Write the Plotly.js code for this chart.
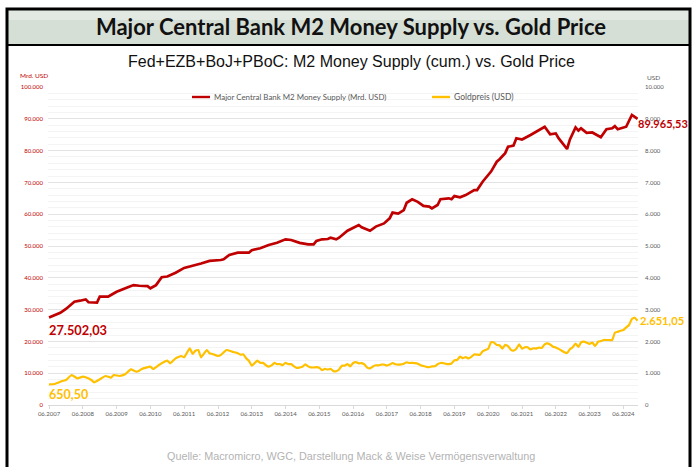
<!DOCTYPE html>
<html>
<head>
<meta charset="utf-8">
<script src="https://cdn.plot.ly/plotly-3.0.1.min.js"></script>
<style>
html,body{margin:0;padding:0;background:#fff;}
#chart{width:695px;height:467px;}
</style>
</head>
<body>
<div id="chart"></div>
<script>
// ---------- DATA ----------
const m2Dates = ["2007-06","2007-10","2007-12","2008-01","2008-03","2008-05","2008-07","2008-08","2008-11","2008-12",
"2009-03","2009-04","2009-06","2009-10","2009-12","2010-02","2010-05","2010-06","2010-08","2010-10","2010-12",
"2011-03","2011-06","2011-12","2012-03","2012-07","2012-08","2012-10","2012-11","2013-01","2013-05","2013-06",
"2013-09","2013-12","2014-03","2014-06","2014-08","2014-11","2015-02","2015-04","2015-05","2015-07","2015-09",
"2015-10","2015-12","2016-01","2016-04","2016-06","2016-08","2016-09","2016-12","2017-02","2017-05","2017-07",
"2017-08","2017-10","2017-12","2018-01","2018-03","2018-05","2018-07","2018-09","2018-10","2018-12","2019-01",
"2019-04","2019-05","2019-06","2019-08","2019-10","2020-01","2020-02","2020-04","2020-07","2020-09","2020-10",
"2020-12","2021-01","2021-03","2021-04","2021-06","2021-09","2021-11","2022-02","2022-04","2022-06","2022-07",
"2022-10","2022-11","2023-01","2023-02","2023-03","2023-05","2023-07","2023-10","2023-12","2024-02","2024-03",
"2024-04","2024-06","2024-07","2024-09","2024-11"];
const m2Values = [27502.03,29000,30200,30900,32500,32800,33200,32300,32200,34100,
34100,34600,35600,37000,37700,37500,37400,36700,37700,40200,40400,
41600,43100,44500,45300,45600,45800,47200,47400,47900,47900,48700,
49300,50300,51000,52100,51900,51000,50500,50500,51600,52100,52200,
52600,52100,52600,54800,55600,56600,55900,54800,56100,57100,58700,
60500,60200,61300,63600,64700,63900,62600,62400,61800,62900,64700,
65000,64700,65700,65300,66000,67600,67600,70200,73400,76500,77300,
79200,81200,81600,83900,83500,84900,85900,87500,85100,85400,83900,
80500,83500,87300,86300,87000,85600,85700,84200,86700,87000,87700,
86700,87200,87500,91200,89965.53];

const goldDates = ["2007-06","2007-08","2007-11","2007-12","2008-02","2008-04","2008-06","2008-07","2008-09","2008-10",
"2008-12","2009-02","2009-04","2009-05","2009-07","2009-09","2009-11","2010-01","2010-02","2010-03","2010-06",
"2010-07","2010-09","2010-12","2011-01","2011-03","2011-05","2011-06","2011-08","2011-09","2011-10","2011-11",
"2011-12","2012-02","2012-03","2012-04","2012-06","2012-07","2012-09","2012-11","2013-01",
"2013-02","2013-03","2013-04","2013-05","2013-06","2013-07","2013-08","2013-09","2013-10","2013-11","2013-12",
"2014-01","2014-02","2014-03","2014-04","2014-05","2014-06","2014-07","2014-08","2014-09","2014-10","2014-11","2014-12",
"2015-01","2015-02","2015-03","2015-04","2015-05","2015-06","2015-07","2015-08","2015-09","2015-10","2015-11","2015-12",
"2016-01","2016-02","2016-03","2016-04","2016-05","2016-06","2016-07","2016-08","2016-09","2016-10","2016-11","2016-12",
"2017-01","2017-02","2017-03","2017-04","2017-05","2017-06","2017-07","2017-08","2017-09","2017-10","2017-11","2017-12",
"2018-01","2018-02","2018-03","2018-04","2018-05","2018-06","2018-07","2018-08","2018-09","2018-10","2018-11","2018-12",
"2019-01","2019-02","2019-03","2019-04","2019-05","2019-06","2019-07","2019-08","2019-09","2019-10","2019-11","2019-12",
"2020-01","2020-02","2020-03","2020-04","2020-05","2020-06","2020-07","2020-08","2020-09","2020-10","2020-11","2020-12",
"2021-01","2021-02","2021-03","2021-04","2021-05","2021-06","2021-07","2021-08","2021-09","2021-10","2021-11","2021-12",
"2022-01","2022-02","2022-03","2022-04","2022-05","2022-06","2022-07","2022-08","2022-09","2022-10","2022-11","2022-12",
"2023-01","2023-02","2023-03","2023-04","2023-05","2023-06","2023-07","2023-08","2023-09","2023-10","2023-11","2023-12",
"2024-01","2024-02","2024-03","2024-04","2024-05","2024-06","2024-07","2024-08","2024-09","2024-10","2024-11"];
const goldValues = [650.50,660,764,786,943,840,890,870,786,714,
808,912,860,943,912,965,1122,1048,1080,1132,1205,
1132,1258,1394,1310,1468,1541,1500,1783,1604,1708,1730,
1500,1730,1626,1604,1541,1572,1730,1677,1626,
1580,1595,1470,1390,1235,1315,1395,1325,1325,1250,1205,
1245,1325,1285,1290,1250,1325,1285,1285,1215,1165,1180,1200,
1280,1215,1185,1180,1190,1170,1095,1135,1115,1140,1065,1060,
1115,1235,1235,1290,1215,1320,1350,1310,1315,1275,1175,1150,
1210,1250,1245,1270,1270,1240,1270,1320,1280,1270,1275,1300,
1345,1320,1325,1315,1300,1250,1225,1200,1190,1215,1220,1280,
1320,1315,1295,1285,1305,1410,1415,1520,1470,1510,1465,1515,
1590,1585,1575,1685,1730,1770,1975,1965,1885,1880,1775,1890,
1850,1735,1710,1770,1905,1770,1815,1815,1745,1785,1775,1805,
1795,1910,1940,1900,1835,1810,1765,1715,1660,1635,1755,1815,
1930,1825,1970,1990,1960,1920,1965,1855,1990,2010,2044,2044,
2044,2044,2274,2300,2337,2358,2440,2516,2704,2745,2651.05];

const m2Name = "Major Central Bank M2 Money Supply (Mrd. USD)";
const goldName = "Goldpreis (USD)";
const leftTickVals = [0,10000,20000,30000,40000,50000,60000,70000,80000,90000,100000];
const rightTickVals = [0,1000,2000,3000,4000,5000,6000,7000,8000,9000,10000];
const m2StartLabel = "27.502,03", m2EndLabel = "89.965,53";
const goldStartLabel = "650,50", goldEndLabel = "2.651,05";

// ---------- STYLE / LAYOUT ----------
const RED = "#c00000", GOLD = "#ffc000";
const PL = 48, PR = 638, PT = 87, PB = 405;           // plot area in px
const W = 695, H = 467;
const px = v => (v - PL) / (PR - PL);                  // px -> paper x
const py = v => (PB - v) / (PB - PT);                  // px -> paper y

const traces = [
  {x: m2Dates, y: m2Values, name: m2Name, type: "scatter", mode: "lines",
   line: {color: RED, width: 2.7}, yaxis: "y", showlegend: false, hoverinfo: "skip"},
  {x: goldDates, y: goldValues, name: goldName, type: "scatter", mode: "lines",
   line: {color: GOLD, width: 2.2, shape: "spline", smoothing: 0.4}, yaxis: "y2", showlegend: false, hoverinfo: "skip"}
];

const smallFont = {family: "Lato, 'Liberation Sans', sans-serif", size: 6, color: "#595959"};

const annotations = [
  {xref: "paper", yref: "paper", x: px(351), y: py(62), text: "Fed+EZB+BoJ+PBoC: M2 Money Supply (cum.) vs. Gold Price",
   showarrow: false, xanchor: "center", yanchor: "middle",
   font: {family: "'Liberation Sans', Arial, sans-serif", size: 16, color: "#111"}},
  {xref: "paper", yref: "paper", x: px(18), y: py(76), text: "Mrd. USD", showarrow: false,
   xanchor: "left", yanchor: "middle", font: {family: "Lato, sans-serif", size: 6.5, color: RED}},
  {xref: "paper", yref: "paper", x: px(645), y: py(77), text: "USD", showarrow: false,
   xanchor: "left", yanchor: "middle", font: {family: "Lato, sans-serif", size: 6.5, color: "#595959"}},
  // legend texts
  {xref: "paper", yref: "paper", x: px(212), y: py(97), text: m2Name, showarrow: false,
   xanchor: "left", yanchor: "middle", font: {family: "Lato, sans-serif", size: 7.9, color: "#595959"}},
  {xref: "paper", yref: "paper", x: px(452), y: py(97), text: goldName, showarrow: false,
   xanchor: "left", yanchor: "middle", font: {family: "Lato, sans-serif", size: 8.5, color: "#595959"}},
  // value labels
  {x: m2Dates[0], y: m2Values[0], xref: "x", yref: "y", text: "<b>" + m2StartLabel + "</b>", showarrow: false,
   xanchor: "left", yanchor: "top", xshift: -2, yshift: -2,
   font: {family: "Lato, sans-serif", size: 12.8, color: RED}},
  {x: m2Dates[m2Dates.length-1], y: m2Values[m2Values.length-1], xref: "x", yref: "y",
   text: "<b>" + m2EndLabel + "</b>", showarrow: false, xanchor: "left", yanchor: "middle", xshift: -2, yshift: -5,
   font: {family: "Lato, sans-serif", size: 11, color: RED}},
  {x: goldDates[0], y: goldValues[0], xref: "x", yref: "y2", text: "<b>" + goldStartLabel + "</b>", showarrow: false,
   xanchor: "left", yanchor: "top", xshift: -2, yshift: -1,
   font: {family: "Lato, sans-serif", size: 12.5, color: GOLD}},
  {x: goldDates[goldDates.length-1], y: goldValues[goldValues.length-1], xref: "x", yref: "y2",
   text: "<b>" + goldEndLabel + "</b>", showarrow: false, xanchor: "left", yanchor: "middle", xshift: 0, yshift: 0,
   font: {family: "Lato, sans-serif", size: 11.2, color: GOLD}},
  // source
  {xref: "paper", yref: "paper", x: px(351), y: py(456), text: "Quelle: Macromicro, WGC, Darstellung Mack & Weise Vermögensverwaltung",
   showarrow: false, xanchor: "center", yanchor: "middle",
   font: {family: "'Liberation Sans', Arial, sans-serif", size: 10.8, color: "#b3b3b3"}}
];

const shapes = [
  // banner
  {type: "rect", xref: "paper", yref: "paper", x0: px(7), x1: px(690), y0: py(9), y1: py(45),
   fillcolor: "#d6dfd6", line: {width: 0}, layer: "below"},
  {type: "rect", xref: "paper", yref: "paper", x0: px(7), x1: px(690), y0: py(9), y1: py(20),
   fillcolor: "#e2e9e2", line: {width: 0}, layer: "below"},
  {type: "line", xref: "paper", yref: "paper", x0: px(7), x1: px(690), y0: py(45), y1: py(45),
   line: {color: "#000", width: 2}},
  // outer frame
  {type: "rect", xref: "paper", yref: "paper", x0: px(7), x1: px(690), y0: py(9), y1: py(490),
   line: {color: "#000", width: 3}, fillcolor: "rgba(0,0,0,0)"},
  // legend lines
  {type: "line", xref: "paper", yref: "paper", x0: px(192), x1: px(210), y0: py(97), y1: py(97),
   line: {color: RED, width: 2.4}},
  {type: "line", xref: "paper", yref: "paper", x0: px(432), x1: px(450), y0: py(97), y1: py(97),
   line: {color: GOLD, width: 2.4}}
];

const layout = {
  width: W, height: H,
  margin: {l: PL, r: W - PR, t: PT, b: H - PB},
  paper_bgcolor: "#fff", plot_bgcolor: "#fff",
  separators: ",.",
  showlegend: false,
  title: {text: "<b>Major Central Bank M2 Money Supply vs. Gold Price</b>",
    xref: "container", yref: "container", x: 351 / W, y: 1 - 27 / H, xanchor: "center", yanchor: "middle",
    font: {family: "Lato, 'Open Sans', sans-serif", size: 22, color: "#111"}},
  xaxis: {type: "date", range: ["2007-05-21", "2024-11-06"], tick0: "2007-06-01", dtick: "M12",
    tickformat: "%m.%Y", showgrid: false, zeroline: false, showline: true, linecolor: "#d9d9d9", linewidth: 1,
    ticks: "outside", ticklen: 3, tickcolor: "#d9d9d9", tickfont: smallFont, fixedrange: true},
  yaxis: {range: [0, 100000], tickvals: leftTickVals, tickformat: ",d", showgrid: true, gridcolor: "#e3e3e3",
    gridwidth: 1, zeroline: false, showline: false, ticks: "", ticklabelstandoff: 4,
    tickfont: {family: "Lato, sans-serif", size: 6, color: RED},
    minor: {dtick: 2000, showgrid: true, gridcolor: "#f4f4f4", gridwidth: 1}, fixedrange: true},
  yaxis2: {range: [0, 10000], tickvals: rightTickVals, tickformat: ",d", overlaying: "y", side: "right",
    showgrid: false, zeroline: false, showline: false, ticks: "", ticklabelstandoff: 6,
    tickfont: {family: "Lato, sans-serif", size: 6, color: "#595959"}, fixedrange: true},
  annotations: annotations,
  shapes: shapes
};

Plotly.newPlot("chart", traces, layout, {displayModeBar: false, staticPlot: true});
</script>
</body>
</html>
